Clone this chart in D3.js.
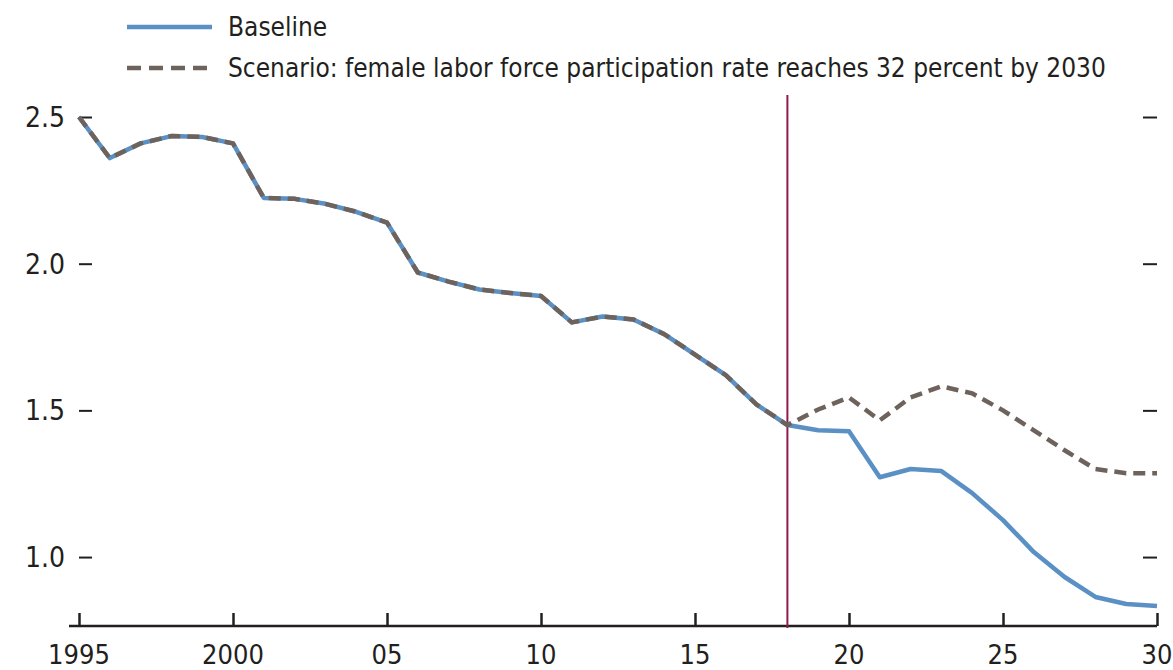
<!DOCTYPE html>
<html>
<head>
<meta charset="utf-8">
<script src="https://cdn.jsdelivr.net/npm/d3@7"></script>
<style>
  html, body { margin: 0; padding: 0; background: #fff; }
  svg { display: block; }
  text { font-family: "DejaVu Sans Condensed", "Liberation Sans Narrow", sans-serif; fill: #231f20; }
</style>
</head>
<body>
<div id="chart"></div>
<script>
// years 1995..2030
const years = d3.range(1995, 2031);

// baseline fertility path
const baseline = [
  2.50, 2.36, 2.41, 2.435, 2.432, 2.41, 2.224, 2.221, 2.204, 2.177,
  2.14, 1.97, 1.939, 1.912, 1.90, 1.89, 1.80, 1.82, 1.81, 1.76,
  1.69, 1.62, 1.52, 1.45, 1.432, 1.429, 1.272, 1.30, 1.293, 1.218,
  1.126, 1.017, 0.932, 0.864, 0.84, 0.833
];

// scenario: same history, diverges after 2018
const scenario = [
  2.50, 2.36, 2.41, 2.435, 2.432, 2.41, 2.224, 2.221, 2.204, 2.177,
  2.14, 1.97, 1.939, 1.912, 1.90, 1.89, 1.80, 1.82, 1.81, 1.76,
  1.69, 1.62, 1.52, 1.45, 1.503, 1.544, 1.466, 1.544, 1.582, 1.558,
  1.50, 1.432, 1.364, 1.30, 1.286, 1.286
];

const yTicks = [1.0, 1.5, 2.0, 2.5];
const xTicks = [1995, 2000, 2005, 2010, 2015, 2020, 2025, 2030];
const xTickLabel = d => (d === 1995 || d === 2000) ? String(d) : String(d).slice(2);
const splitYear = 2018;

const legendItems = [
  { label: "Baseline", color: "#5a90c4", dash: null },
  { label: "Scenario: female labor force participation rate reaches 32 percent by 2030", color: "#6e635c", dash: "14,8" }
];

const width = 1173, height = 670;
const margin = { top: 95, right: 16, bottom: 44, left: 79 };

const svg = d3.select("#chart").append("svg")
  .attr("width", width)
  .attr("height", height);

const x = d3.scaleLinear()
  .domain([1995, 2030])
  .range([margin.left, width - margin.right]);

const y = d3.scaleLinear()
  .domain([0.765, 2.575])
  .range([height - margin.bottom, margin.top]);

const axisColor = "#231f20";

// y axis: labels on the left, short ticks inside on both sides
const yAxisL = svg.append("g")
  .attr("transform", `translate(${margin.left},0)`)
  .call(d3.axisRight(y).tickValues(yTicks).tickSize(13).tickFormat(""));
yAxisL.select(".domain").remove();
yAxisL.selectAll(".tick line").attr("stroke", axisColor).attr("stroke-width", 2);

svg.append("g")
  .selectAll("text")
  .data(yTicks)
  .join("text")
  .attr("x", margin.left - 14)
  .attr("y", d => y(d))
  .attr("dy", "0.36em")
  .attr("text-anchor", "end")
  .attr("font-size", 28)
  .text(d => d.toFixed(1));

const yAxisR = svg.append("g")
  .attr("transform", `translate(${width - margin.right},0)`)
  .call(d3.axisLeft(y).tickValues(yTicks).tickSize(14).tickFormat(""));
yAxisR.select(".domain").remove();
yAxisR.selectAll(".tick line").attr("stroke", axisColor).attr("stroke-width", 2);

// x axis
const xAxis = svg.append("g")
  .attr("transform", `translate(0,${height - margin.bottom})`)
  .call(d3.axisTop(x).tickValues(xTicks).tickSize(13).tickSizeOuter(0).tickFormat(""));
xAxis.select(".domain")
  .attr("d", `M${margin.left - 10},0H${width - margin.right}`)
  .attr("stroke", axisColor).attr("stroke-width", 2.5);
xAxis.selectAll(".tick line").attr("stroke", axisColor).attr("stroke-width", 2.5);

svg.append("g")
  .selectAll("text")
  .data(xTicks)
  .join("text")
  .attr("x", d => x(d))
  .attr("y", height - 6)
  .attr("text-anchor", "middle")
  .attr("font-size", 27)
  .text(xTickLabel);

// vertical marker at 2018
svg.append("line")
  .attr("x1", x(splitYear)).attr("x2", x(splitYear))
  .attr("y1", y(2.575)).attr("y2", height - margin.bottom + 2)
  .attr("stroke", "#8e1a50")
  .attr("stroke-width", 2);

// lines
const line = d3.line()
  .x((d, i) => x(years[i]))
  .y(d => y(d));

svg.append("path")
  .datum(baseline)
  .attr("fill", "none")
  .attr("stroke", legendItems[0].color)
  .attr("stroke-width", 4.5)
  .attr("stroke-linejoin", "round")
  .attr("d", line);

svg.append("path")
  .datum(scenario)
  .attr("fill", "none")
  .attr("stroke", legendItems[1].color)
  .attr("stroke-width", 4.5)
  .attr("stroke-dasharray", "12,7")
  .attr("d", line);

// legend
const legend = svg.append("g");
const lg = legend.selectAll("g")
  .data(legendItems)
  .join("g")
  .attr("transform", (d, i) => `translate(127,${27 + i * 41})`);

lg.append("line")
  .attr("x1", 0).attr("x2", 85)
  .attr("stroke", d => d.color)
  .attr("stroke-width", 4.5)
  .attr("stroke-dasharray", d => d.dash);

lg.append("text")
  .attr("x", 101)
  .attr("dy", "0.36em")
  .attr("font-size", 26)
  .text(d => d.label);
</script>
</body>
</html>
